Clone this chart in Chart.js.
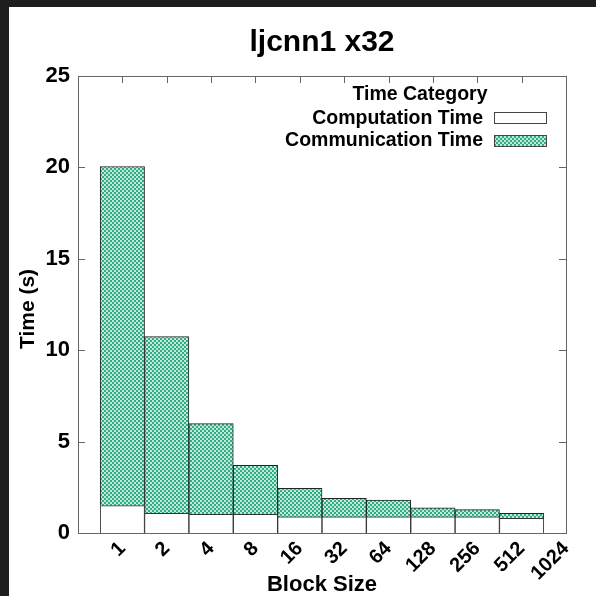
<!DOCTYPE html>
<html>
<head>
<meta charset="utf-8">
<script src="https://cdn.jsdelivr.net/npm/chart.js@4/dist/chart.umd.min.js"></script>
<style>
  html, body { margin: 0; padding: 0; background: #1e1e1e; width: 596px; height: 596px; overflow: hidden; }
  #wrap { position: absolute; left: 9px; top: 7px; width: 587px; height: 589px; background: #fff; }
  canvas { display: block; }
</style>
</head>
<body>
<div id="wrap"><canvas id="c" width="587" height="589"></canvas></div>
<script>
const chartTitle = 'ljcnn1 x32';
const xTitle = 'Block Size';
const yTitle = 'Time (s)';
const legendTitle = 'Time Category';
const seriesNames = ['Computation Time', 'Communication Time'];
const blockSizes = ['1', '2', '4', '8', '16', '32', '64', '128', '256', '512', '1024'];
const computation = [1.5, 1.08, 1.02, 1.02, 0.88, 0.88, 0.88, 0.88, 0.88, 0.8];
const communication = [18.55, 9.67, 4.96, 2.68, 1.57, 1.02, 0.92, 0.5, 0.4, 0.28];
const yTicks = [0, 5, 10, 15, 20, 25];

const FONT = '"Liberation Sans", Arial, sans-serif';
const GREEN = '#23a97f';

function makePattern() {
  const c = document.createElement('canvas');
  c.width = 4; c.height = 4;
  const g = c.getContext('2d');
  g.fillStyle = '#fff';
  g.fillRect(0, 0, 4, 4);
  g.strokeStyle = GREEN;
  g.lineWidth = 1.05;
  const segs = [[-1,-1,5,5],[-1,5,5,-1],[-1,3,1,5],[3,-1,5,1],[-1,1,1,-1],[3,5,5,3]];
  g.beginPath();
  segs.forEach(s => { g.moveTo(s[0], s[1]); g.lineTo(s[2], s[3]); });
  g.stroke();
  return g.createPattern(c, 'repeat');
}
const hatch = makePattern();

const compData = computation.map((v, i) => ({ x: i, y: v }));
const commData = communication.map((v, i) => ({ x: i, y: v }));

const frame = {
  id: 'frame',
  afterDraw(chart) {
    const ctx = chart.ctx;
    const a = chart.chartArea;
    const xs = chart.scales.x, ys = chart.scales.y;
    ctx.save();
    ctx.strokeStyle = '#666';
    ctx.lineWidth = 1;
    ctx.strokeRect(Math.round(a.left) + 0.5, Math.round(a.top) + 0.5, Math.round(a.right - a.left), Math.round(a.bottom - a.top));
    ctx.beginPath();
    yTicks.forEach(v => {
      if (v === 0 || v === 25) return;
      const y = Math.round(ys.getPixelForValue(v)) + 0.5;
      ctx.moveTo(a.left, y); ctx.lineTo(a.left + 7, y);
      ctx.moveTo(a.right, y); ctx.lineTo(a.right - 7, y);
    });
    for (let i = 0; i < blockSizes.length - 1; i++) {
      const x = Math.round(xs.getPixelForValue(i)) + 0.5;
      ctx.moveTo(x, a.top); ctx.lineTo(x, a.top + 7);
    }
    ctx.stroke();
    ctx.fillStyle = '#000';
    ctx.textAlign = 'center';
    ctx.textBaseline = 'alphabetic';
    ctx.font = 'bold 30px ' + FONT;
    ctx.fillText(chartTitle, (a.left + a.right) / 2, 44);
    ctx.textBaseline = 'middle';
    ctx.font = 'bold 19.5px ' + FONT;
    ctx.fillText(legendTitle, 411, 88);
    ctx.textAlign = 'right';
    ctx.fillText(seriesNames[0], 474, 112);
    ctx.fillText(seriesNames[1], 474, 134);
    ctx.fillStyle = '#fff';
    ctx.fillRect(485, 105, 52, 11);
    ctx.fillStyle = hatch;
    ctx.fillRect(485, 128, 52, 11);
    ctx.strokeStyle = '#444';
    ctx.strokeRect(485.5, 105.5, 52, 11);
    ctx.strokeRect(485.5, 128.5, 52, 11);
    // y axis title
    ctx.save();
    ctx.translate(19, 302);
    ctx.rotate(-Math.PI / 2);
    ctx.fillStyle = '#000';
    ctx.textAlign = 'center';
    ctx.textBaseline = 'middle';
    ctx.font = 'bold 21px ' + FONT;
    ctx.fillText(yTitle, 0, 0);
    ctx.restore();
    ctx.restore();
  }
};

new Chart(document.getElementById('c'), {
  type: 'bar',
  data: {
    datasets: [
      { label: seriesNames[0], data: compData, backgroundColor: '#fff', borderColor: '#333', borderWidth: 1, barPercentage: 1, categoryPercentage: 1 },
      { label: seriesNames[1], data: commData, backgroundColor: hatch, borderColor: '#222', borderWidth: 1, barPercentage: 1, categoryPercentage: 1 }
    ]
  },
  options: {
    responsive: false,
    animation: false,
    devicePixelRatio: 1,
    layout: { padding: { left: 0, right: 30, top: 69, bottom: 0 } },
    plugins: { legend: { display: false }, title: { display: false }, tooltip: { enabled: false } },
    scales: {
      x: {
        type: 'linear',
        stacked: true,
        offset: false,
        min: -1, max: 10,
        grid: { display: false },
        border: { display: false },
        afterFit(s) { s.height = 63; },
        afterBuildTicks(s) { s.ticks = blockSizes.map((b, i) => ({ value: i })); },
        ticks: {
          autoSkip: false,
          minRotation: 45, maxRotation: 45,
          color: '#000',
          padding: -4,
          font: { family: FONT, size: 20, weight: 'bold' },
          callback: (v) => blockSizes[v] !== undefined ? blockSizes[v] : ''
        },
        title: { display: true, text: xTitle, color: '#000', padding: { top: 0, bottom: -2 }, font: { family: FONT, size: 22, weight: 'bold' } }
      },
      y: {
        stacked: true,
        min: 0, max: 25,
        afterFit(s) { s.width = 69; },
        afterBuildTicks(s) { s.ticks = yTicks.map(v => ({ value: v })); },
        grid: { display: false, drawTicks: false },
        border: { display: false },
        ticks: { color: '#000', padding: 8, font: { family: FONT, size: 22, weight: 'bold' } },
        title: { display: false }
      }
    }
  },
  plugins: [frame]
});
</script>
</body>
</html>
